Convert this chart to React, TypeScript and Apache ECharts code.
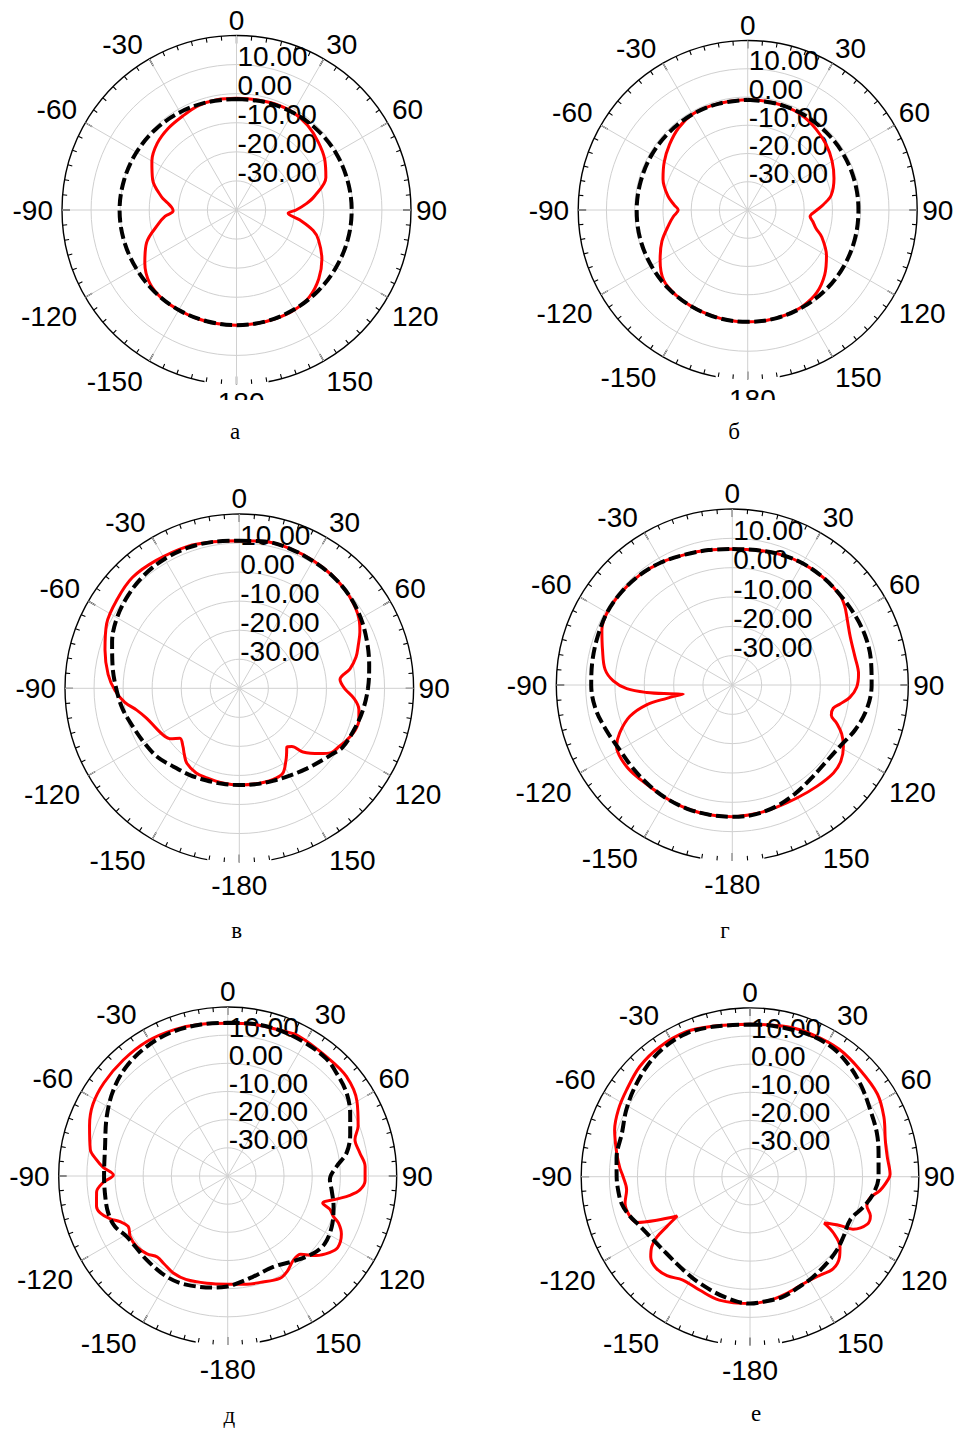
import React, { useEffect, useRef } from 'react';
import * as echarts from 'echarts';

// ---------- data (angle in degrees, value in dB) ----------
const RADIUS_MIN = -40;
const RADIUS_MAX = 20;
const RADIUS_STEP = 10;
const ANGLE_STEP = 30;

// а
const A_RED_ANG = [-180,-170,-160,-150,-140,-130,-120,-110,-100,-95,-91,-88,-84,-80,-70,-60,-50,-40,-30,-20,-10,0,10,20,30,40,50,60,70,80,85,90,93.5,99,105,110,120,130,140,150,160,170];
const A_RED_VAL = [-0.4,-0.4,-0.3,-0.3,-0.2,-1.0,-3.6,-7.1,-12.8,-15.4,-18.2,-17.8,-16.1,-13.8,-9.3,-6.4,-4.4,-3.4,-2.8,-1.8,-1.5,-1.6,-1.5,-1.2,-1.2,-2.0,-3.4,-5.0,-7.3,-12.8,-16.0,-19.5,-22.2,-17.9,-12.7,-10.0,-6.1,-3.1,-1.0,-0.3,-0.3,-0.4];
const A_BLK_ANG = [-180,-165,-150,-135,-120,-105,-90,-75,-60,-45,-30,-15,0,15,30,45,60,75,90,105,120,135,150,165];
const A_BLK_VAL = [-0.4,-0.4,-0.3,-0.2,-0.1,0.1,0.2,0.0,-0.3,-0.7,-1.2,-1.6,-1.8,-1.6,-1.3,-0.9,-0.6,-0.5,-0.4,-0.4,-0.5,-0.5,-0.5,-0.4];

// б
const B_RED_ANG = [-180,-170,-160,-150,-140,-130,-120,-110,-100,-95,-90,-86,-80,-70,-60,-50,-40,-30,-20,-10,0,10,20,30,40,50,60,70,80,86,91,96,100,105,110,120,130,140,150,160,170];
const B_RED_VAL = [-0.4,-0.4,-0.5,-0.5,-0.6,-1.2,-4.2,-7.7,-11.8,-13.6,-15.4,-13.9,-11.3,-8.1,-5.9,-3.9,-2.0,-0.9,-0.9,-1.0,-1.0,-1.0,-1.0,-1.4,-2.5,-3.8,-5.5,-7.5,-10.0,-13.2,-16.0,-17.8,-16.6,-15.0,-12.1,-7.8,-4.4,-1.9,-0.8,-0.5,-0.4];
const B_BLK_ANG = [-180,-165,-150,-135,-120,-105,-90,-75,-60,-45,-30,-15,0,15,30,45,60,75,90,105,120,135,150,165];
const B_BLK_VAL = [-0.4,-0.4,-0.5,-0.5,-0.6,-0.6,-0.7,-0.8,-0.8,-0.9,-0.9,-1.0,-1.0,-1.0,-0.9,-0.9,-0.8,-0.8,-0.8,-0.7,-0.6,-0.5,-0.5,-0.4];

// в
const V_RED_ANG = [-180,-170,-160,-153,-145,-140,-136,-130,-126,-123,-116,-108,-102,-97,-91,-84,-74,-64,-54,-44,-33,-20,-10,0,10,20,30,40,50,60,65,70,75,80,85,90,95,100,105,110,116,120,125,129,135,138,141,144,147,153,160,170];
const V_RED_VAL = [-6.7,-6.9,-7.2,-7.3,-8.5,-10.5,-12.1,-13.3,-10.5,-9.5,-8.3,-6.5,-3.9,-0.3,2.8,5.4,8.1,10.8,12.0,13.0,12.5,12.0,11.2,10.8,11.3,11.2,10.8,10.3,9.4,7.6,5.8,3.6,1.6,-1.3,-5.2,-3.8,-0.4,1.8,2.6,2.4,1.0,-0.2,-1.4,-4.3,-9.0,-13.0,-14.0,-12.3,-10.5,-7.1,-6.5,-6.6];
const V_BLK_ANG = [-180,-170,-160,-150,-140,-130,-120,-110,-100,-90,-80,-70,-60,-50,-40,-30,-20,-10,0,10,20,30,40,50,60,70,80,90,100,110,120,125,130,140,150,160,170];
const V_BLK_VAL = [-6.7,-6.6,-6.3,-5.6,-4.8,-3.2,-2.3,-1.1,0.8,2.4,4.3,6.6,8.6,9.9,10.9,11.4,11.5,11.2,10.8,11.3,11.1,10.6,10.2,9.5,8.3,6.8,5.4,4.3,3.2,2.0,0.9,-0.7,-2.0,-3.9,-5.3,-6.1,-6.5];

// г
const G_RED_ANG = [-180,-170,-160,-150,-141,-134,-128,-122,-118,-113,-107,-103,-101.5,-100.4,-98,-95,-92,-88,-83,-75,-67,-60,-50,-40,-30,-20,-10,0,10,20,30,40,50,55,60,68,77,85,91,96,100,103,107,110,114,119,125,131,140,150,160,170];
const G_RED_VAL = [4.9,4.9,4.9,4.7,4.6,5.1,5.5,5.4,4.7,1.7,-3.5,-10.0,-17.2,-23.0,-18.5,-10.7,-4.0,0.6,3.7,5.8,8.3,9.3,9.3,9.0,8.3,7.3,6.7,6.4,6.7,7.4,7.9,8.0,7.8,6.8,5.2,3.4,2.9,3.2,2.4,0.3,-2.7,-4.7,-4.7,-2.2,0.8,3.3,5.2,5.7,5.0,4.4,4.3,4.6];
const G_BLK_ANG = [-180,-170,-160,-150,-140,-130,-120,-110,-100,-90,-80,-70,-60,-50,-40,-30,-20,-10,0,10,20,30,40,50,60,70,80,90,100,110,120,130,140,150,160,170];
const G_BLK_VAL = [4.9,4.9,4.9,4.7,4.4,4.2,4.3,5.6,7.3,8.1,8.4,8.8,9.3,9.3,9.0,8.3,7.3,6.7,6.4,6.7,7.4,7.9,8.0,7.9,8.1,8.3,8.0,7.5,6.6,4.6,2.2,1.3,1.7,2.8,4.0,4.8];

// д
const D_RED_ANG = [-180,-169,-158,-151,-144,-139,-134,-128,-122,-117,-113,-110,-106,-103,-97,-93,-89.5,-86,-83,-79,-70,-62,-53,-42,-31,-20,-10,0,10,20,27,40,50,60,69,74,80,86,92,96,99,102,106,108,111,113,117,123,127,132,137,142,148,153,163,170];
const D_RED_VAL = [-1.6,-1.2,-0.4,-0.5,-1.5,-1.9,-0.2,0.9,0.8,-0.4,1.5,4.4,7.2,7.8,6.9,4.3,0.6,4.3,6.9,9.7,12.2,14.2,15.0,15.4,15.7,15.3,14.7,14.2,14.6,15.0,15.7,15.0,15.0,13.0,9.6,7.0,7.6,8.9,8.8,7.2,3.9,-0.5,-4.9,-1.9,0.2,2.7,5.3,6.6,5.2,2.2,-2.0,-2.1,-0.1,0.8,-0.5,-1.0];
const D_BLK_ANG = [-180,-173,-159,-149,-136,-121,-114,-107,-100,-90,-77,-64,-53,-43,-32,-21,-10,0,10,20,30,40,47,55,63,71,79,85,92,98,106,116,125,132,142,153,166,177];
const D_BLK_VAL = [-0.8,-0.1,1.3,1.8,1.4,1.8,3.9,4.4,4.1,3.9,4.7,7.8,10.8,12.9,14.2,14.8,14.6,14.4,14.8,14.9,14.7,14.4,13.1,11.5,8.8,6.0,3.0,-1.2,-3.7,-2.7,-0.9,1.1,2.0,1.0,-1.7,-3.9,-3.1,-1.3];

// е
const E_RED_ANG = [-180,-166,-156,-147,-140,-134,-129,-125.5,-123,-121,-118.4,-115,-112,-108,-102,-96,-90,-86,-80,-71,-63,-55,-45,-35,-24,-14,0,14,24,35,46,57,66,75,82,89,91,96,100,104,108,112,117,118.5,122,124,128,132,138,145,153,163,171];
const E_RED_VAL = [5.1,5.2,4.1,3.8,5.9,6.6,5.4,2.9,-0.5,-5.4,-10.6,-3.4,3.4,5.0,5.4,4.1,5.1,6.4,8.1,10.9,12.5,13.6,15.4,16.2,16.3,15.1,14.2,14.9,15.2,15.3,14.5,14.0,12.1,9.8,9.3,9.8,9.2,6.5,3.3,2.8,5.0,5.0,1.1,-3.7,-8.9,-4.2,0.6,2.8,4.1,2.9,2.5,3.5,4.5];
const E_BLK_ANG = [-180,-168,-155,-145,-133,-123,-114,-108,-102,-96,-90,-82,-71,-62,-53,-43,-34,-24,-14,0,5,14,24,33,42,51,61,71,80,90,98,105,113,123,130,138,148,156,165,174];
const E_BLK_VAL = [5.1,3.7,1.9,0.8,0.3,1.1,2.9,5.0,6.6,7.1,7.4,7.9,8.1,9.9,11.7,13.7,15.1,15.7,14.9,14.1,14.2,14.3,14.7,14.4,12.9,11.0,8.9,7.7,6.4,5.7,4.2,1.7,-1.2,-0.5,0.4,1.1,2.1,2.9,4.3,4.7];

const CAPTIONS = ['а', 'б', 'в', 'г', 'д', 'е'];

// ---------- layout ----------
const W = 958;
const H = 1429;
const FONT = "'Liberation Sans', Arial, Helvetica, sans-serif";
const SERIF = "'Liberation Serif', 'Times New Roman', serif";
const LABEL_SIZE = 28;

const PANELS = [
  { cx: 236.5, cy: 210, r: 174.5, lx: 235, ly: 431, pad: 18, red: [A_RED_ANG, A_RED_VAL], blk: [A_BLK_ANG, A_BLK_VAL] },
  { cx: 747.7, cy: 210, r: 169.5, lx: 734, ly: 431, pad: 22, red: [B_RED_ANG, B_RED_VAL], blk: [B_BLK_ANG, B_BLK_VAL] },
  { cx: 239.3, cy: 688.3, r: 174.3, lx: 236.7, ly: 930, pad: 27, red: [V_RED_ANG, V_RED_VAL], blk: [V_BLK_ANG, V_BLK_VAL] },
  { cx: 732.3, cy: 685, r: 176, lx: 725, ly: 930, pad: 28, red: [G_RED_ANG, G_RED_VAL], blk: [G_BLK_ANG, G_BLK_VAL] },
  { cx: 227.7, cy: 1176, r: 169, lx: 229.3, ly: 1415, pad: 30, red: [D_RED_ANG, D_RED_VAL], blk: [D_BLK_ANG, D_BLK_VAL] },
  { cx: 750, cy: 1176.7, r: 168.8, lx: 756, ly: 1413, pad: 31, red: [E_RED_ANG, E_RED_VAL], blk: [E_BLK_ANG, E_BLK_VAL] },
];

function toPolar(ang: number[], val: number[]): number[][] {
  const pts = ang.map((a, i) => [val[i], a < 0 ? a + 360 : a]);
  pts.sort((p, q) => p[1] - q[1]);
  pts.push([pts[0][0], 360]);
  return pts;
}

function angleText(v: number): string {
  if (v === 180) return '-180';
  return String(v < 180 ? v : v - 360);
}

const TXT = { fontSize: LABEL_SIZE, fontFamily: FONT, color: '#000', lineHeight: 21 };
const ANGLE_RICH = {
  p: { ...TXT },
  l: { ...TXT, padding: [0, 4, 0, 0] },
  lb: { ...TXT, padding: [12, 4, 0, 0] },
  rb: { ...TXT, padding: [12, 0, 0, 0] },
};

function baseAngleLabel(v: number): string {
  if (v === 180 || v >= 360) return '';
  const t = angleText(v);
  let k = 'p';
  if (v > 180 && v <= 240) k = 'lb';
  else if (v > 240) k = 'l';
  else if (v > 90 && v < 180) k = 'rb';
  return '{' + k + '|' + t + '}';
}

function buildOption() {
  const polar: any[] = [];
  const angleAxis: any[] = [];
  const radiusAxis: any[] = [];
  const series: any[] = [];
  const graphic: any[] = [];
  const nCircles = (RADIUS_MAX - RADIUS_MIN) / RADIUS_STEP + 1;
  const circleColors: string[] = [];
  for (let k = 0; k < nCircles; k++) circleColors.push(k === nCircles - 1 ? 'rgba(0,0,0,0)' : '#d0d0d0');

  PANELS.forEach((p, i) => {
    const baseIdx = 2 * i;
    const mainIdx = 2 * i + 1;
    polar.push({ center: [p.cx, p.cy], radius: p.r });
    polar.push({ center: [p.cx, p.cy], radius: p.r });

    // base layer: outer circle + angle labels
    angleAxis.push({
      polarIndex: baseIdx, type: 'value', min: 0, max: 360, interval: ANGLE_STEP,
      startAngle: 90, clockwise: true, z: 0,
      axisLine: { show: true, lineStyle: { color: '#000', width: 1.4 } },
      axisTick: { show: false }, minorTick: { show: false }, splitLine: { show: false },
      axisLabel: {
        show: true, margin: 5, ...TXT,
        formatter: baseAngleLabel,
        rich: ANGLE_RICH,
      },
    });
    radiusAxis.push({ polarIndex: baseIdx, type: 'value', min: RADIUS_MIN, max: RADIUS_MAX, show: false });

    // main layer: ticks, grid, radial labels, -180 label with white box
    angleAxis.push({
      polarIndex: mainIdx, type: 'value', min: 0, max: 360, interval: ANGLE_STEP,
      startAngle: 90, clockwise: true, z: 1,
      axisLine: { show: false },
      axisTick: { show: true, inside: true, length: 8, lineStyle: { color: '#000', width: 1.3 } },
      minorTick: { show: true, splitNumber: 6, length: 4.5, lineStyle: { color: '#000', width: 1.1 } },
      splitLine: { show: true, lineStyle: { color: '#d0d0d0', width: 1 } },
      axisLabel: {
        show: true, margin: -5,
        formatter: (v: number) => (v === 180 ? '{b|' + angleText(180) + '}' : ''),
        rich: {
          b: { fontSize: LABEL_SIZE, fontFamily: FONT, color: '#000', backgroundColor: '#fff', padding: [p.pad, 4, 0, 4], lineHeight: 28 },
        },
      },
    });
    radiusAxis.push({
      polarIndex: mainIdx, type: 'value', min: RADIUS_MIN, max: RADIUS_MAX, interval: RADIUS_STEP, z: 1,
      axisLine: { show: false }, axisTick: { show: false },
      splitLine: { show: true, lineStyle: { color: circleColors, width: 1 } },
      axisLabel: {
        show: true, margin: -1, align: 'left', verticalAlign: 'bottom', lineHeight: 16,
        fontSize: LABEL_SIZE, fontFamily: FONT, color: '#000',
        formatter: (v: number) => (v <= RADIUS_MIN || v >= RADIUS_MAX ? '' : v.toFixed(2)),
      },
    });

    series.push({
      type: 'line', coordinateSystem: 'polar', polarIndex: mainIdx, z: 3,
      data: toPolar(p.red[0], p.red[1]), smooth: 0.35, symbol: 'none',
      lineStyle: { color: '#ff0000', width: 3 },
    });
    series.push({
      type: 'line', coordinateSystem: 'polar', polarIndex: mainIdx, z: 4,
      data: toPolar(p.blk[0], p.blk[1]), smooth: 0.35, symbol: 'none',
      lineStyle: { color: '#000', width: 4, type: [12, 4.5] },
    });

    graphic.push({
      type: 'text', x: p.lx, y: p.ly, z: 101,
      style: { text: CAPTIONS[i], font: '23px ' + SERIF, fill: '#000', align: 'center', verticalAlign: 'middle' },
    });
  });

  // the top row's bottom labels are cut off in the reference
  graphic.push({ type: 'rect', shape: { x: 0, y: 400, width: W, height: 18 }, style: { fill: '#fff' }, z: 100 });

  return { animation: false, backgroundColor: '#fff', polar, angleAxis, radiusAxis, series, graphic };
}

export default function App() {
  const ref = useRef<HTMLDivElement>(null);
  useEffect(() => {
    if (!ref.current) return;
    const chart = echarts.init(ref.current, undefined, { renderer: 'svg' });
    chart.setOption(buildOption() as any);
    return () => chart.dispose();
  }, []);
  return <div ref={ref} style={{ position: 'absolute', left: 0, top: 0, width: W, height: H }} />;
}
